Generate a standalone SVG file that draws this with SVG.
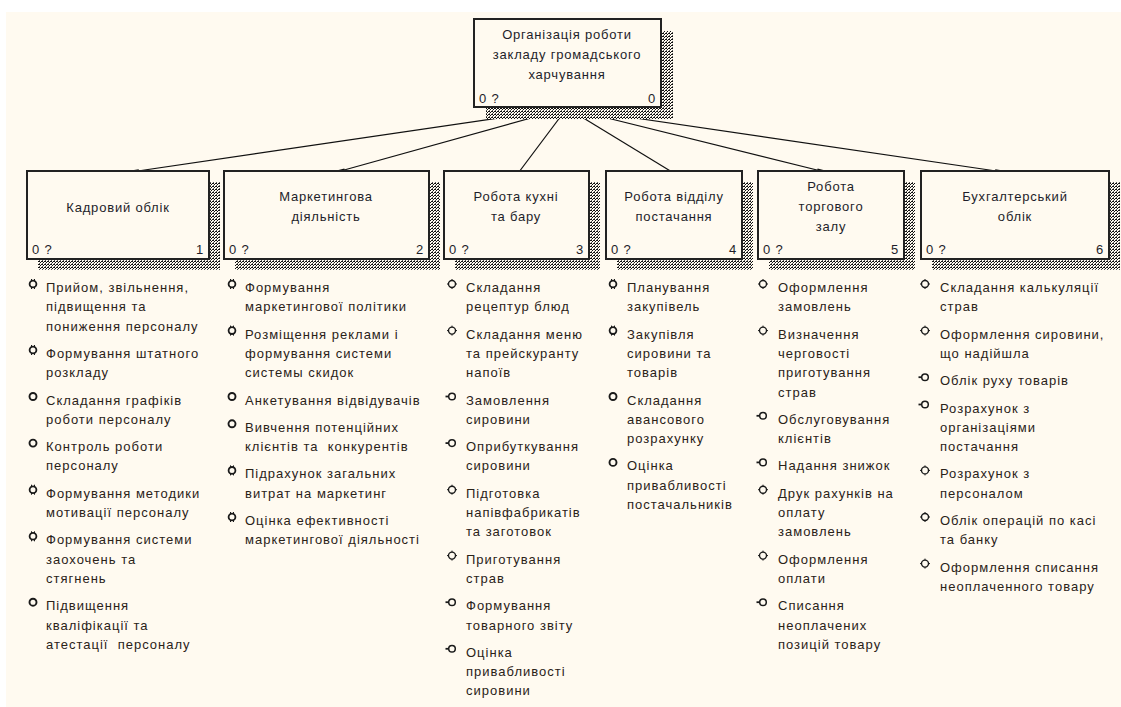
<svg xmlns="http://www.w3.org/2000/svg" width="1121" height="707" viewBox="0 0 1121 707">
<style>
.box{fill:#fffaf0;stroke:#222;stroke-width:2}
.sh{fill:url(#hatch)}
.t{font-family:"Liberation Sans",Arial,sans-serif;font-size:13px;fill:#1e1e2a;letter-spacing:0.8px}
.c{text-anchor:middle}
.r{text-anchor:end}
.it{font-family:"Liberation Sans",Arial,sans-serif;font-size:13px;fill:#2a2218;white-space:pre;letter-spacing:1px}
.con{stroke:#111;stroke-width:1.2;fill:none}
.bl{fill:none;stroke:#1a1a1a}
</style>
<defs>
<pattern id="hatch" width="3" height="3" patternUnits="userSpaceOnUse">
<rect width="3" height="3" fill="#fffaf0"/>
<rect x="0" y="0" width="1" height="1" fill="#111"/>
<rect x="1" y="1" width="1" height="1" fill="#111"/>
<rect x="2" y="0" width="1" height="1" fill="#111"/>
<rect x="0" y="2" width="1" height="1" fill="#555"/>
</pattern>
<marker id="end" markerUnits="userSpaceOnUse" markerWidth="12" markerHeight="6" refX="10" refY="3" orient="auto">
<rect x="2" y="1.5" width="8" height="3" fill="#111"/>
</marker>
<g id="bA"><circle class="bl" r="3.4" stroke-width="1.8"/><path class="bl" d="M-1.5,-5v2M1.5,-5v2M-1.5,3v2M1.5,3v2" stroke-width="1"/></g>
<g id="bB"><circle class="bl" r="3.5" stroke-width="1.9"/></g>
<g id="bC"><circle class="bl" r="3.3" stroke-width="1.5"/><path class="bl" d="M-6.5,0h3.2" stroke-width="1.8"/></g>
<g id="bD"><circle class="bl" r="3.5" stroke-width="1.4"/><path class="bl" d="M0,-5v1.6M0,3.4v1.6M-5,0h1.6M3.4,0h1.6" stroke-width="1"/></g>
</defs>
<rect x="6" y="12" width="1115" height="695" fill="#fffaf0"/>

<g id="connectors">
<path class="con" d="M567,108L131,172" marker-end="url(#end)"/>
<path class="con" d="M567,108L337,172" marker-end="url(#end)"/>
<path class="con" d="M567,108L519,172"/>
<path class="con" d="M567,108L672,172"/>
<path class="con" d="M567,108L825,172" marker-end="url(#end)"/>
<path class="con" d="M567,108L1003,172" marker-end="url(#end)"/>
</g>

<g id="node0">
<rect class="sh" x="486" y="31" width="187" height="88"/>
<rect class="box" x="474" y="19" width="187" height="88"/>
<text class="t c" x="567" y="39">Організація роботи</text>
<text class="t c" x="567" y="59">закладу громадського</text>
<text class="t c" x="567" y="79">харчування</text>
<text class="t" x="479" y="103">0 ?</text>
<text class="t r" x="656" y="103">0</text>
</g>

<g id="node1">
<rect class="sh" x="38" y="182" width="182" height="88"/>
<rect class="box" x="27" y="171" width="182" height="88"/>
<text class="t c" x="118" y="212">Кадровий облік</text>
<text class="t" x="32" y="254">0 ?</text>
<text class="t r" x="204" y="254">1</text>
</g>
<g id="node2">
<rect class="sh" x="235" y="182" width="205" height="88"/>
<rect class="box" x="224" y="171" width="205" height="88"/>
<text class="t c" x="326" y="201">Маркетингова</text>
<text class="t c" x="326" y="221">діяльність</text>
<text class="t" x="229" y="254">0 ?</text>
<text class="t r" x="424" y="254">2</text>
</g>
<g id="node3">
<rect class="sh" x="455" y="182" width="145" height="88"/>
<rect class="box" x="444" y="171" width="145" height="88"/>
<text class="t c" x="516" y="201">Робота кухні</text>
<text class="t c" x="516" y="221">та бару</text>
<text class="t" x="449" y="254">0 ?</text>
<text class="t r" x="584" y="254">3</text>
</g>
<g id="node4">
<rect class="sh" x="617" y="182" width="136" height="88"/>
<rect class="box" x="606" y="171" width="136" height="88"/>
<text class="t c" x="674" y="201">Робота відділу</text>
<text class="t c" x="674" y="221">постачання</text>
<text class="t" x="611" y="254">0 ?</text>
<text class="t r" x="737" y="254">4</text>
</g>
<g id="node5">
<rect class="sh" x="769" y="182" width="146" height="88"/>
<rect class="box" x="758" y="171" width="146" height="88"/>
<text class="t c" x="831" y="191">Робота</text>
<text class="t c" x="831" y="211">торгового</text>
<text class="t c" x="831" y="231">залу</text>
<text class="t" x="763" y="254">0 ?</text>
<text class="t r" x="899" y="254">5</text>
</g>
<g id="node6">
<rect class="sh" x="932" y="182" width="188" height="88"/>
<rect class="box" x="921" y="171" width="188" height="88"/>
<text class="t c" x="1015" y="201">Бухгалтерський</text>
<text class="t c" x="1015" y="221">облік</text>
<text class="t" x="926" y="254">0 ?</text>
<text class="t r" x="1104" y="254">6</text>
</g>

<g id="list1">
<use href="#bA" x="33" y="284"/><text class="it" x="46" y="292"><tspan x="46">Прийом, звільнення,</tspan><tspan x="46" dy="19.3">підвищення та</tspan><tspan x="46" dy="19.3">пониження персоналу</tspan></text>
<use href="#bA" x="33" y="350"/><text class="it" x="46" y="357.9"><tspan x="46">Формування штатного</tspan><tspan x="46" dy="19.3">розкладу</tspan></text>
<use href="#bB" x="33" y="396.5"/><text class="it" x="46" y="404.5"><tspan x="46">Складання графіків</tspan><tspan x="46" dy="19.3">роботи персоналу</tspan></text>
<use href="#bB" x="33" y="443.1"/><text class="it" x="46" y="451.1"><tspan x="46">Контроль роботи</tspan><tspan x="46" dy="19.3">персоналу</tspan></text>
<use href="#bA" x="33" y="489.7"/><text class="it" x="46" y="497.7"><tspan x="46">Формування методики</tspan><tspan x="46" dy="19.3">мотивації персоналу</tspan></text>
<use href="#bA" x="33" y="536.3"/><text class="it" x="46" y="544.3"><tspan x="46">Формування системи</tspan><tspan x="46" dy="19.3">заохочень та</tspan><tspan x="46" dy="19.3">стягнень</tspan></text>
<use href="#bB" x="33" y="602.2"/><text class="it" x="46" y="610.2"><tspan x="46">Підвищення</tspan><tspan x="46" dy="19.3">кваліфікації та</tspan><tspan x="46" dy="19.3">атестації  персоналу</tspan></text>
</g>

<g id="list2">
<use href="#bA" x="232" y="284"/><text class="it" x="245" y="292"><tspan x="245">Формування</tspan><tspan x="245" dy="19.3">маркетингової політики</tspan></text>
<use href="#bA" x="232" y="330.6"/><text class="it" x="245" y="338.6"><tspan x="245">Розміщення реклами і</tspan><tspan x="245" dy="19.3">формування системи</tspan><tspan x="245" dy="19.3">системы скидок</tspan></text>
<use href="#bB" x="232" y="396.5"/><text class="it" x="245" y="404.5">Анкетування відвідувачів</text>
<use href="#bB" x="232" y="423.8"/><text class="it" x="245" y="431.8"><tspan x="245">Вивчення потенційних</tspan><tspan x="245" dy="19.3">клієнтів та  конкурентів</tspan></text>
<use href="#bA" x="232" y="470.4"/><text class="it" x="245" y="478.4"><tspan x="245">Підрахунок загальних</tspan><tspan x="245" dy="19.3">витрат на маркетинг</tspan></text>
<use href="#bA" x="232" y="517"/><text class="it" x="245" y="525"><tspan x="245">Оцінка ефективності</tspan><tspan x="245" dy="19.3">маркетингової діяльності</tspan></text>
</g>

<g id="list3">
<use href="#bD" x="452" y="284"/><text class="it" x="466" y="292"><tspan x="466">Складання</tspan><tspan x="466" dy="19.3">рецептур блюд</tspan></text>
<use href="#bD" x="452" y="330.6"/><text class="it" x="466" y="338.6"><tspan x="466">Складання меню</tspan><tspan x="466" dy="19.3">та прейскуранту</tspan><tspan x="466" dy="19.3">напоїв</tspan></text>
<use href="#bC" x="452" y="396.5"/><text class="it" x="466" y="404.5"><tspan x="466">Замовлення</tspan><tspan x="466" dy="19.3">сировини</tspan></text>
<use href="#bC" x="452" y="443.1"/><text class="it" x="466" y="451.1"><tspan x="466">Оприбуткування</tspan><tspan x="466" dy="19.3">сировини</tspan></text>
<use href="#bD" x="452" y="489.7"/><text class="it" x="466" y="497.7"><tspan x="466">Підготовка</tspan><tspan x="466" dy="19.3">напівфабрикатів</tspan><tspan x="466" dy="19.3">та заготовок</tspan></text>
<use href="#bD" x="452" y="555.6"/><text class="it" x="466" y="563.6"><tspan x="466">Приготування</tspan><tspan x="466" dy="19.3">страв</tspan></text>
<use href="#bC" x="452" y="602.2"/><text class="it" x="466" y="610.2"><tspan x="466">Формування</tspan><tspan x="466" dy="19.3">товарного звіту</tspan></text>
<use href="#bC" x="452" y="648.8"/><text class="it" x="466" y="656.8"><tspan x="466">Оцінка</tspan><tspan x="466" dy="19.3">привабливості</tspan><tspan x="466" dy="19.3">сировини</tspan></text>
</g>

<g id="list4">
<use href="#bA" x="613" y="284"/><text class="it" x="627" y="292"><tspan x="627">Планування</tspan><tspan x="627" dy="19.3">закупівель</tspan></text>
<use href="#bA" x="613" y="330.6"/><text class="it" x="627" y="338.6"><tspan x="627">Закупівля</tspan><tspan x="627" dy="19.3">сировини та</tspan><tspan x="627" dy="19.3">товарів</tspan></text>
<use href="#bB" x="613" y="396.5"/><text class="it" x="627" y="404.5"><tspan x="627">Складання</tspan><tspan x="627" dy="19.3">авансового</tspan><tspan x="627" dy="19.3">розрахунку</tspan></text>
<use href="#bB" x="613" y="462.4"/><text class="it" x="627" y="470.4"><tspan x="627">Оцінка</tspan><tspan x="627" dy="19.3">привабливості</tspan><tspan x="627" dy="19.3">постачальників</tspan></text>
</g>

<g id="list5">
<use href="#bD" x="763" y="284"/><text class="it" x="778" y="292"><tspan x="778">Оформлення</tspan><tspan x="778" dy="19.3">замовлень</tspan></text>
<use href="#bD" x="763" y="330.6"/><text class="it" x="778" y="338.6"><tspan x="778">Визначення</tspan><tspan x="778" dy="19.3">черговості</tspan><tspan x="778" dy="19.3">приготування</tspan><tspan x="778" dy="19.3">страв</tspan></text>
<use href="#bC" x="763" y="415.8"/><text class="it" x="778" y="423.8"><tspan x="778">Обслуговування</tspan><tspan x="778" dy="19.3">клієнтів</tspan></text>
<use href="#bC" x="763" y="462.4"/><text class="it" x="778" y="470.4">Надання знижок</text>
<use href="#bD" x="763" y="489.7"/><text class="it" x="778" y="497.7"><tspan x="778">Друк рахунків на</tspan><tspan x="778" dy="19.3">оплату</tspan><tspan x="778" dy="19.3">замовлень</tspan></text>
<use href="#bD" x="763" y="555.6"/><text class="it" x="778" y="563.6"><tspan x="778">Оформлення</tspan><tspan x="778" dy="19.3">оплати</tspan></text>
<use href="#bC" x="763" y="602.2"/><text class="it" x="778" y="610.2"><tspan x="778">Списання</tspan><tspan x="778" dy="19.3">неоплачених</tspan><tspan x="778" dy="19.3">позицій товару</tspan></text>
</g>

<g id="list6">
<use href="#bD" x="925" y="284"/><text class="it" x="940" y="292"><tspan x="940">Складання калькуляції</tspan><tspan x="940" dy="19.3">страв</tspan></text>
<use href="#bD" x="925" y="330.6"/><text class="it" x="940" y="338.6"><tspan x="940">Оформлення сировини,</tspan><tspan x="940" dy="19.3">що надійшла</tspan></text>
<use href="#bC" x="925" y="377.2"/><text class="it" x="940" y="385.2">Облік руху товарів</text>
<use href="#bC" x="925" y="404.5"/><text class="it" x="940" y="412.5"><tspan x="940">Розрахунок з</tspan><tspan x="940" dy="19.3">організаціями</tspan><tspan x="940" dy="19.3">постачання</tspan></text>
<use href="#bD" x="925" y="470.4"/><text class="it" x="940" y="478.4"><tspan x="940">Розрахунок з</tspan><tspan x="940" dy="19.3">персоналом</tspan></text>
<use href="#bD" x="925" y="517"/><text class="it" x="940" y="525"><tspan x="940">Облік операцій по касі</tspan><tspan x="940" dy="19.3">та банку</tspan></text>
<use href="#bD" x="925" y="563.6"/><text class="it" x="940" y="571.6"><tspan x="940">Оформлення списання</tspan><tspan x="940" dy="19.3">неоплаченного товару</tspan></text>
</g>
</svg>
